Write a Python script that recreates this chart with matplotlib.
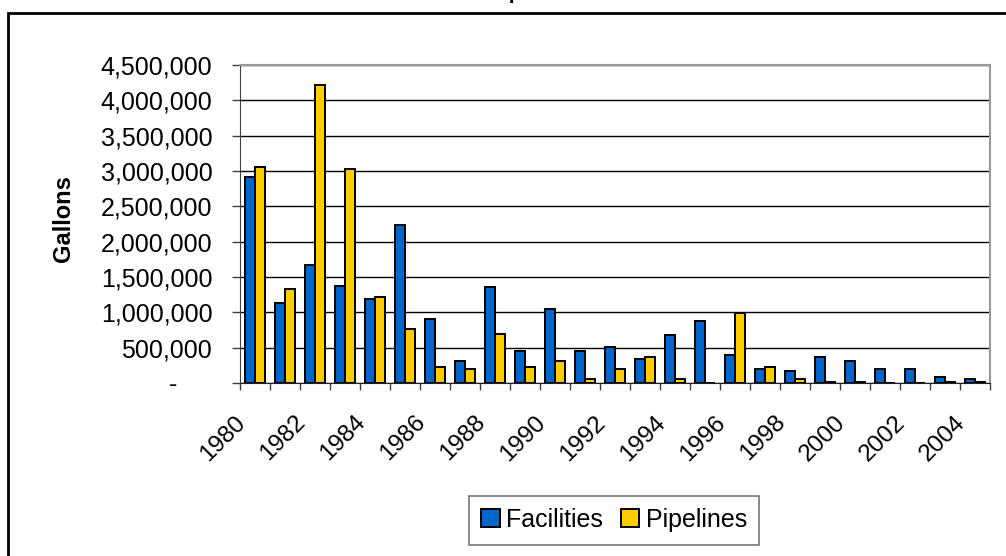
import numpy as np
import matplotlib.pyplot as plt
import matplotlib.transforms as mtransforms
from matplotlib.ticker import FixedLocator, FuncFormatter
from matplotlib.patches import Rectangle

plt.rcParams['font.family'] = ['Liberation Sans', 'DejaVu Sans']

years = list(range(1980, 2005))
facilities = [2913000, 1129000, 1667000, 1379000, 1185000, 2238000, 902000, 307000,
              1355000, 449000, 1044000, 449000, 510000, 335000, 675000, 874000,
              397000, 194000, 165000, 364000, 307000, 194000, 194000, 80000, 52000]
pipelines = [3050000, 1327000, 4217000, 3027000, 1214000, 760000, 222000, 194000,
             699000, 222000, 307000, 52000, 194000, 364000, 52000, 0,
             987000, 222000, 52000, 20000, 20000, 0, 0, 20000, 20000]

fig = plt.figure(figsize=(10.06, 5.56), dpi=100)
ax = fig.add_axes([0.2386, 0.3112, 0.7455, 0.5719])

x = np.arange(len(years))
w = 0.32
ax.bar(x - w / 2, facilities, w, color='#0066CC', edgecolor='black', linewidth=1.4,
       label='Facilities', zorder=3)
ax.bar(x + w / 2, pipelines, w, color='#FFCC00', edgecolor='black', linewidth=1.4,
       label='Pipelines', zorder=3)

ax.set_xlim(-0.5, len(years) - 0.5)
ax.set_ylim(0, 4500000)
ax.set_yticks(np.arange(0, 4500001, 500000))
ax.yaxis.set_major_formatter(FuncFormatter(lambda v, p: '-     ' if v == 0 else f'{int(v):,}'))
ax.yaxis.grid(True, color='black', linewidth=1, zorder=0)
ax.tick_params(axis='y', labelsize=18, length=6, width=1, color='#404040', pad=14)

# category boundary ticks, labels on every other year
ax.xaxis.set_major_locator(FixedLocator(np.arange(-0.5, len(years), 1.0)))
ax.xaxis.set_major_formatter(FuncFormatter(lambda v, p: ''))
ax.xaxis.set_minor_locator(FixedLocator(x[::2]))
ax.set_xticklabels([str(y) for y in years[::2]], minor=True)
ax.tick_params(axis='x', which='major', length=5, width=1, color='#404040')
ax.tick_params(axis='x', which='minor', length=0, labelsize=17.5, pad=26)
shift = mtransforms.ScaledTranslation(-13 / 100, 0, fig.dpi_scale_trans)
for lab in ax.get_xticklabels(minor=True):
    lab.set_rotation(45)
    lab.set_ha('right')
    lab.set_va('center')
    lab.set_rotation_mode('anchor')
    lab.set_transform(lab.get_transform() + shift)

for s in ['top', 'right']:
    ax.spines[s].set_color('#999999')
    ax.spines[s].set_linewidth(1.5)
ax.spines['left'].set_color('#404040')
ax.spines['bottom'].set_color('#202020')

fig.text(64 / 1006, 1 - 219 / 556, 'Gallons', rotation=90, ha='center', va='center',
         fontsize=17, fontweight='bold')

leg = ax.legend(loc='center', bbox_to_anchor=(614 / 1006, 1 - 520 / 556),
                bbox_transform=fig.transFigure, ncol=2, fontsize=18, frameon=True,
                fancybox=False, edgecolor='#555555', handlelength=0.75, handleheight=0.75,
                handletextpad=0.25, columnspacing=0.7, borderpad=0.5, borderaxespad=0)
leg.get_frame().set_linewidth(1.2)

# outer chart frame and clipped title
fig.patches.append(Rectangle((8 / 1006, -0.1), 1.2, 1 - 13 / 556 + 0.1, transform=fig.transFigure,
                             fill=False, edgecolor='black', linewidth=2))
fig.text(0.503, 1 + 1 / 556, 'Oil Spills', ha='center', va='baseline', fontsize=15,
         fontweight='bold')

fig.savefig('out.png', dpi=100)
